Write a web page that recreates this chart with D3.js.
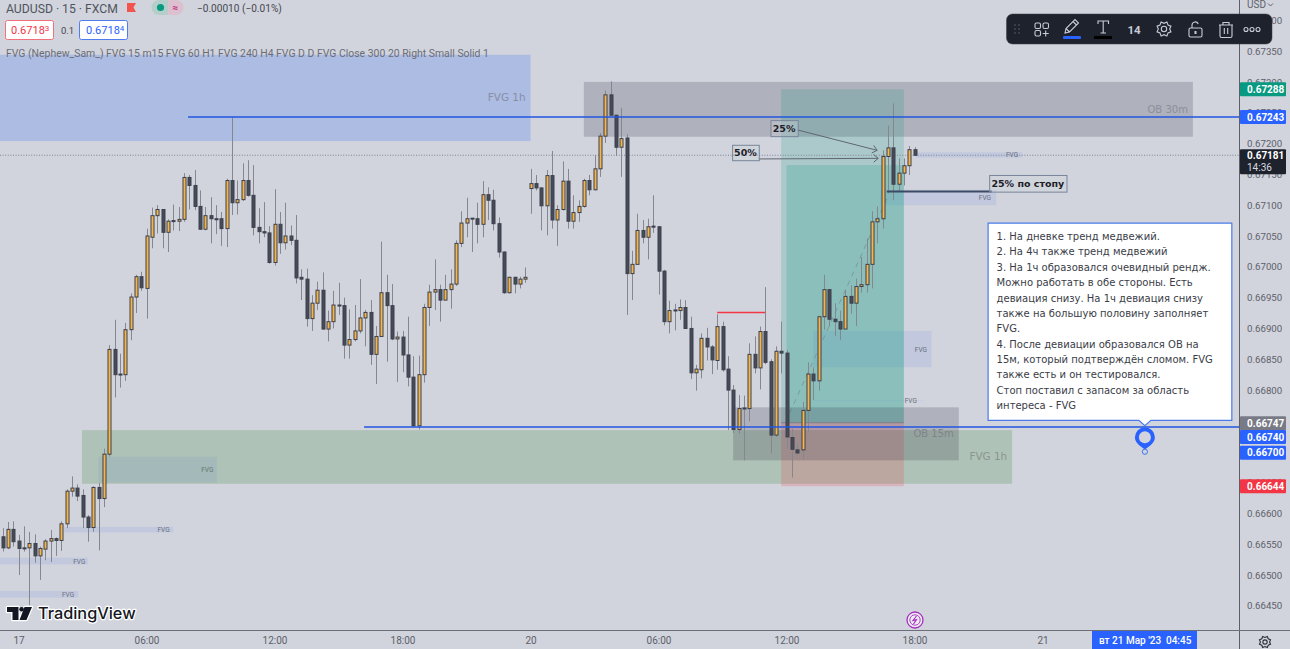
<!DOCTYPE html>
<html lang="ru">
<head>
<meta charset="utf-8">
<title>AUDUSD 15</title>
<script src="https://cdn.jsdelivr.net/npm/d3@7/dist/d3.min.js"></script>
<style>
  html, body { margin: 0; padding: 0; background: #d1d4dc; overflow: hidden; }
  svg { display: block; }
  text { font-family: Roboto, sans-serif; }
</style>
</head>
<body>
<svg id="chart" width="1290" height="649"></svg>
<script>
// AUDUSD 15-minute quotes in 1e-5 units, one entry per bar, starting three bars before 17 March.
const firstBar = -3;
const opens = [
  66562,66544,66574,66555,66544,66544,66551,66531,66542,66555,
  66559,66556,66583,66636,66641,66629,66594,66577,66642,66624,
  66696,66866,66826,66825,66898,66951,66984,66965,67048,67083,
  67093,67056,67075,67074,67077,67145,67132,67098,67061,67083,
  67078,67078,67062,67140,67104,67109,67140,67116,67064,67057,
  67055,67007,67069,67039,67050,67043,66983,66980,66916,66941,
  66962,66899,66911,66938,66937,66873,66882,66896,66917,66926,
  66858,66887,66958,66937,66883,66886,66857,66821,66742,66825,
  66934,66959,66963,66946,66963,66972,67038,67071,67079,67078,
  67069,67117,67108,67070,67024,66958,66983,66972,66980,67127,
  67135,67128,67099,67148,67076,67093,67139,67074,67088,67098,
  67140,67125,67159,67212,67279,67246,67194,67209,66989,67004,
  67059,67048,67066,67065,66993,66911,66930,66929,66934,66900,
  66828,66833,66884,66870,66848,66903,66834,66800,66736,66771,
  66770,66858,66836,66895,66846,66727,66863,66860,66723,66703,
  66703,66767,66826,66815,66919,66963,66915,66911,66899,66952,
  66941,66968,66971,67004,67073,67078,67179,67193,67134,67152,
  67164,67190];
const highs = [
  66576,66586,66587,66565,66579,66570,66566,66546,66558,66573,
  66561,66587,66639,66660,66647,66639,66597,66644,66649,66705,
  66873,66914,66859,66909,66957,66987,66992,67062,67096,67100,
  67093,67077,67101,67097,67152,67149,67157,67124,67097,67113,
  67100,67089,67143,67243,67140,67168,67173,67165,67095,67105,
  67066,67126,67089,67104,67067,67084,66996,66997,66954,66976,
  66991,66929,66961,66974,66950,66931,66938,66980,66930,66946,
  66904,67041,66987,66972,66895,66896,66919,66855,66856,66940,
  66971,67012,66971,66987,66996,67043,67090,67112,67079,67104,
  67139,67129,67125,67080,67025,66984,66984,66984,66999,67159,
  67149,67129,67157,67188,67100,67171,67159,67116,67108,67143,
  67149,67181,67217,67286,67301,67246,67258,67215,67026,67086,
  67076,67078,67116,67066,66995,66945,66940,66947,66946,66919,
  66841,66892,66901,66873,66923,66911,66855,66808,66792,66791,
  66876,66887,66903,66967,66850,66871,66911,66865,66737,66714,
  66781,66845,66837,66920,66987,66963,66941,66929,66963,66970,
  66981,67016,67046,67090,67098,67189,67229,67265,67176,67176,
  67196,67194];
const lows = [
  66538,66542,66546,66500,66538,66451,66520,66492,66524,66521,
  66531,66539,66576,66627,66620,66576,66554,66570,66540,66610,
  66692,66788,66804,66815,66881,66925,66961,66916,67030,67054,
  67030,67024,67059,67058,67073,67093,67092,67060,67059,67038,
  67053,67034,67032,67084,67085,67107,67114,67051,67038,67048,
  67005,67002,67021,67028,67035,66973,66946,66903,66896,66930,
  66898,66879,66900,66922,66851,66851,66879,66892,66871,66841,
  66810,66886,66846,66881,66813,66829,66806,66740,66736,66812,
  66904,66930,66911,66946,66932,66969,67032,67048,67024,67038,
  67048,67076,67059,67015,66956,66957,66957,66965,66974,67086,
  67124,67059,67051,67062,67034,67091,67062,67062,67073,67096,
  67116,67124,67146,67201,67246,67180,67146,66922,66946,67003,
  67038,67012,67055,66955,66905,66892,66897,66914,66899,66818,
  66799,66819,66848,66826,66833,66830,66735,66730,66729,66686,
  66749,66827,66801,66842,66697,66724,66827,66705,66658,66695,
  66688,66731,66784,66799,66898,66903,66888,66881,66899,66924,
  66904,66958,66958,66965,67038,67062,67119,67108,67121,67132,
  67149,67181];
const closes = [
  66544,66574,66554,66543,66543,66551,66531,66543,66555,66559,
  66556,66583,66636,66641,66628,66594,66577,66642,66624,66696,
  66866,66825,66825,66898,66951,66984,66966,67050,67083,67093,
  67056,67074,67074,67077,67145,67132,67098,67061,67083,67078,
  67077,67062,67140,67104,67109,67140,67116,67064,67057,67055,
  67007,67069,67039,67050,67043,66982,66980,66916,66941,66962,
  66899,66911,66938,66937,66873,66882,66896,66917,66926,66858,
  66887,66958,66937,66883,66886,66857,66821,66742,66825,66934,
  66959,66963,66946,66963,66972,67038,67071,67078,67078,67069,
  67117,67108,67070,67024,66958,66983,66972,66980,66983,67135,
  67128,67099,67148,67076,67093,67139,67074,67088,67098,67140,
  67125,67159,67212,67279,67246,67194,67208,66989,67004,67059,
  67048,67065,67065,66993,66911,66929,66929,66934,66900,66828,
  66834,66884,66870,66849,66903,66833,66800,66736,66770,66770,
  66858,66836,66895,66845,66727,66863,66860,66724,66704,66698,
  66767,66826,66815,66919,66963,66915,66911,66899,66952,66941,
  66968,66971,67004,67073,67078,67179,67193,67134,67152,67164,
  67190,67181];

// Axis contents; 0.66700 and 0.66750 are left out because value tags sit on those levels.
const priceTicks = d3.range(66450, 67401, 50).filter(v => v !== 66700 && v !== 66750);
const timeTicks = [0, 24, 48, 72, 96, 120, 144, 168, 192];
const timeLabels = ["17", "06:00", "12:00", "18:00", "20", "06:00", "12:00", "18:00", "21"];

// Drawn zones: [first bar, last bar, upper price, lower price].
const fvgHourBlue = [-6, 96, 67344, 67204];
const fvgHourGreen = [11.9, 186.3, 66735, 66648];
const ob30m = [106, 220.2, 67300, 67211];
const ob15m = [134, 176.3, 66772, 66686];
const positionTarget = [143, 166, 67288, 66747];
const positionFilled = [144, 166, 67165, 66747];
const positionStop = [143, 166, 66747, 66644];

// Small fair-value gaps from the indicator: [first bar, last bar, upper, lower, label bar].
const smallGaps = [
  [-6, 13, 66528, 66517, 11.4],
  [-6, 11.2, 66474, 66463, 9.3],
  [8.5, 29, 66578, 66569, 27.2],
  [15, 37.2, 66692, 66650, 35.4],
  [149, 171.2, 66896, 66837, 169.2],
  [149, 169.4, 66784, 66783, 167.3],
  [161.6, 183.3, 67125, 67100, 181.2],
  [168.2, 188.2, 67186, 67177, 186.3]
];

// Horizontal levels: [first bar, last bar, price].
const blueLevels = [[31.8, 300, 67243], [64.8, 300, 66740]];
const redLevel = [131, 140, 66926];
const stopLevel = [162.8, 182.5, 67122];
const lastClose = 67181;

// Arrowed call-outs and their label boxes: [first bar, last bar, upper, lower, text].
const calloutBoxes = [
  [141, 146.1, 67238, 67212, "25%"],
  [133.8, 138.8, 67198, 67173, "50%"],
  [182, 196.5, 67149, 67122, "25% по стопу"]
];
const calloutArrows = [
  [146.1, 67222, 161, 67189],
  [138.8, 67175, 161.2, 67176]
];
const tradeProjection = [144.6, 66763, 163, 67114];

// Value tags on the price axis: [price, label, fill, nudge so stacked tags do not cover each other].
const priceTags = [
  [67288, "0.67288", "#089981", 0],
  [67243, "0.67243", "#2962ff", 0],
  [66747, "0.66747", "#787b86", 0.6],
  [66740, "0.66740", "#2962ff", 10],
  [66700, "0.66700", "#2962ff", 1],
  [66644, "0.66644", "#f23645", 0]
];

const noteLines = [
  "1. На дневке тренд медвежий.",
  "2. На 4ч также тренд медвежий",
  "3. На 1ч образовался очевидный рендж.",
  "Можно работать в обе стороны. Есть",
  "девиация снизу. На 1ч девиация снизу",
  "также на большую половину заполняет",
  "FVG.",
  "4. После девиации образовался OB на",
  "15м, который подтверждён сломом. FVG",
  "также есть и он тестировался.",
  "Стоп поставил с запасом за область",
  "интереса - FVG"
];
const noteBox = [181.8, 227.5, 67071, 66751];
const notePin = [211.2, 66700];

const paneWidth = 1239, paneHeight = 630;
const svg = d3.select("#chart");

const x = d3.scaleLinear().domain([0, 96]).range([18.5, 530.5]);
const y = d3.scaleLinear().domain([67350, 66450]).range([51.1, 605.8]);

svg.append("defs").append("clipPath").attr("id", "pane")
  .append("rect").attr("width", paneWidth).attr("height", paneHeight);
const pane = svg.append("g").attr("clip-path", "url(#pane)");

// Filled rectangle spanning bars and prices.
function zone(parent, z, fill) {
  return parent.append("rect")
    .attr("x", x(z[0])).attr("width", x(z[1]) - x(z[0]))
    .attr("y", y(z[2])).attr("height", y(z[3]) - y(z[2]))
    .attr("fill", fill);
}
// Text label tucked against the right side of a zone.
function zoneLabel(parent, z, text, size, color) {
  parent.append("text").attr("x", x(z[1]) - 5).attr("y", (y(z[2]) + y(z[3])) / 2 + 3.5)
    .attr("text-anchor", "end").attr("font-size", size).attr("fill", color)
    .style("font-family", "'DejaVu Sans', sans-serif").text(text);
}

const gapFill = "rgba(41,98,255,0.09)";
smallGaps.forEach(g => {
  zone(pane, g, gapFill);
  pane.append("text").attr("x", x(g[4])).attr("y", (y(g[2]) + y(g[3])) / 2 + 2.5)
    .attr("text-anchor", "middle").attr("font-size", 6.5).attr("fill", "#6b6f7c").text("FVG");
});

zone(pane, fvgHourBlue, "rgba(41,98,255,0.21)");
zoneLabel(pane, fvgHourBlue, "FVG 1h", 10.4, "#868fa6");
zone(pane, fvgHourGreen, "rgba(76,140,70,0.25)");
zoneLabel(pane, fvgHourGreen, "FVG 1h", 10.4, "#89978e");
zone(pane, ob30m, "rgba(40,40,60,0.2)");
zoneLabel(pane, ob30m, "OB 30m", 10, "#8c8f9b");
zone(pane, positionTarget, "rgba(8,153,129,0.19)");
zone(pane, positionFilled, "rgba(8,153,129,0.2)");
zone(pane, positionStop, "rgba(242,54,69,0.2)");
zone(pane, ob15m, "rgba(40,40,60,0.2)");
zoneLabel(pane, ob15m, "OB 15m", 10, "#7f8389");

pane.append("line")
  .attr("x1", x(positionTarget[0])).attr("x2", x(positionTarget[1]))
  .attr("y1", y(positionTarget[3])).attr("y2", y(positionTarget[3]))
  .attr("stroke", "#7f8086").attr("stroke-width", 1);

// Last-price guide sits underneath the candles.
pane.append("line")
  .attr("x1", 0).attr("x2", paneWidth).attr("y1", y(lastClose)).attr("y2", y(lastClose))
  .attr("stroke", "#7f8494").attr("stroke-width", 1).attr("stroke-dasharray", "1,1.6");

// Projection line of the trade.
pane.append("line")
  .attr("x1", x(tradeProjection[0])).attr("y1", y(tradeProjection[1]))
  .attr("x2", x(tradeProjection[2])).attr("y2", y(tradeProjection[3]))
  .attr("stroke", "#6f7a80").attr("stroke-opacity", 0.55).attr("stroke-dasharray", "5,5");

// Candles.
const bars = opens.map((o, k) => ({
  bar: firstBar + k, open: o, high: highs[k], low: lows[k], close: closes[k]
}));
const candles = pane.append("g").selectAll("g").data(bars).join("g");
candles.append("line")
  .attr("x1", d => Math.round(x(d.bar)) + 0.5).attr("x2", d => Math.round(x(d.bar)) + 0.5)
  .attr("y1", d => y(d.high)).attr("y2", d => y(d.low))
  .attr("stroke", "#85878f").attr("stroke-width", 1);
candles.append("rect")
  .attr("x", d => Math.round(x(d.bar)) - 1)
  .attr("width", 3)
  .attr("y", d => y(Math.max(d.open, d.close)))
  .attr("height", d => Math.max(1, Math.abs(y(d.open) - y(d.close))))
  .attr("fill", d => d.close > d.open ? "#f7b548" : "#474b58")
  .attr("stroke", "#3c404d").attr("stroke-width", 1);

// Horizontal levels.
blueLevels.forEach(l => {
  pane.append("line").attr("x1", x(l[0])).attr("x2", x(l[1])).attr("y1", y(l[2])).attr("y2", y(l[2]))
    .attr("stroke", "#2256e0").attr("stroke-width", 1.5);
});
pane.append("line").attr("x1", x(redLevel[0])).attr("x2", x(redLevel[1]))
  .attr("y1", y(redLevel[2])).attr("y2", y(redLevel[2]))
  .attr("stroke", "#f23645").attr("stroke-width", 1.5);
pane.append("line").attr("x1", x(stopLevel[0])).attr("x2", x(stopLevel[1]))
  .attr("y1", y(stopLevel[2])).attr("y2", y(stopLevel[2]))
  .attr("stroke", "#3d4a66").attr("stroke-width", 2);

// Arrows with open heads.
calloutArrows.forEach(a => {
  const x1 = x(a[0]), y1 = y(a[1]), x2 = x(a[2]), y2 = y(a[3]);
  const ang = Math.atan2(y2 - y1, x2 - x1), h = 6;
  pane.append("line").attr("x1", x1).attr("y1", y1).attr("x2", x2).attr("y2", y2)
    .attr("stroke", "#5f6672").attr("stroke-width", 1);
  pane.append("path")
    .attr("d", d3.line()([
      [x2 - h * Math.cos(ang - 0.7), y2 - h * Math.sin(ang - 0.7)],
      [x2, y2],
      [x2 - h * Math.cos(ang + 0.7), y2 - h * Math.sin(ang + 0.7)]
    ]))
    .attr("fill", "none").attr("stroke", "#5f6672").attr("stroke-width", 1);
});

calloutBoxes.forEach(b => {
  const bx = x(b[0]), bw = x(b[1]) - bx, by = y(b[2]), bh = y(b[3]) - by;
  pane.append("rect").attr("x", bx + 0.5).attr("y", by + 0.5).attr("width", bw).attr("height", bh)
    .attr("fill", "#cfd3da").attr("fill-opacity", 0.35).attr("stroke", "#78859a").attr("stroke-width", 1);
  pane.append("text").attr("x", bx + bw / 2).attr("y", by + bh / 2 + 4)
    .attr("text-anchor", "middle").attr("font-size", 9.5).attr("font-weight", 700).attr("fill", "#1d2029")
    .style("font-family", "'DejaVu Sans', sans-serif").text(b[4]);
});

// Note with its pointer and pin.
{
  const nx = x(noteBox[0]), nw = x(noteBox[1]) - nx, ny = y(noteBox[2]), nh = y(noteBox[3]) - ny;
  const px = x(notePin[0]), py = y(notePin[1]);
  pane.append("path")
    .attr("d", d3.line()([[nx, ny], [nx + nw, ny], [nx + nw, ny + nh], [px + 6, ny + nh], [px, ny + nh + 5.5],
                          [px - 6, ny + nh], [nx, ny + nh]]) + "Z")
    .attr("fill", "#fff").attr("stroke", "#4a7ae8").attr("stroke-width", 1.2);
  pane.append("g").selectAll("text").data(noteLines).join("text")
    .attr("x", nx + 8.5).attr("y", (d, k) => ny + 17 + k * 15.38)
    .attr("font-size", 10).attr("fill", "#3a3d47")
    .style("font-family", "'DejaVu Sans', sans-serif").text(d => d);

  // Teardrop pin hanging from the level, with its anchor ring underneath.
  const cy = py - 14.5;
  pane.append("path")
    .attr("d", `M${px},${py - 2} C${px - 2},${cy + 10} ${px - 10},${cy + 7} ${px - 10},${cy}` +
               `A10,10 0 1 1 ${px + 10},${cy} C${px + 10},${cy + 7} ${px + 2},${cy + 10} ${px},${py - 2}Z`)
    .attr("fill", "#2962ff");
  pane.append("circle").attr("cx", px).attr("cy", cy).attr("r", 6).attr("fill", "#d1d4dc");
  pane.append("circle").attr("cx", px).attr("cy", py).attr("r", 2.6)
    .attr("fill", "#d1d4dc").attr("stroke", "#3f74ee").attr("stroke-width", 1);
}

// Price axis.
const priceAxis = svg.append("g").attr("transform", `translate(${paneWidth},0)`)
  .call(d3.axisRight(y).tickValues(priceTicks).tickSize(0).tickPadding(8)
    .tickFormat(v => (v / 1e5).toFixed(5)));
priceAxis.select(".domain").remove();
priceAxis.selectAll("text").attr("font-size", 9.7).attr("fill", "#5d606b").style("font-family", "Roboto, sans-serif");

// Time axis.
const timeAxis = svg.append("g").attr("transform", `translate(0,${paneHeight})`)
  .call(d3.axisBottom(x).tickValues(timeTicks).tickSize(0).tickPadding(7)
    .tickFormat((v, k) => timeLabels[k]));
timeAxis.select(".domain").remove();
timeAxis.selectAll("text").attr("font-size", 10).attr("fill", "#5d606b").style("font-family", "Roboto, sans-serif");

svg.append("line").attr("x1", paneWidth + 0.5).attr("x2", paneWidth + 0.5).attr("y1", 0).attr("y2", 649)
  .attr("stroke", "#5d5f68").attr("stroke-width", 1);
svg.append("line").attr("x1", 0).attr("x2", 1290).attr("y1", paneHeight + 0.5).attr("y2", paneHeight + 0.5)
  .attr("stroke", "#6d6f78").attr("stroke-width", 1);

// Value tags.
const tagG = svg.append("g");
priceTags.forEach(t => {
  const cy = y(t[0]) + t[3];
  tagG.append("rect").attr("x", paneWidth + 1).attr("y", cy - 7).attr("width", 46).attr("height", 14)
    .attr("rx", 1).attr("fill", t[2]);
  tagG.append("text").attr("x", paneWidth + 8).attr("y", cy + 3.6).attr("font-size", 10)
    .attr("font-weight", 700).attr("fill", "#fff").text(t[1]);
});
tagG.append("rect").attr("x", paneWidth + 1).attr("y", y(lastClose) - 6).attr("width", 46).attr("height", 25)
  .attr("rx", 1).attr("fill", "#1e222d");
tagG.append("text").attr("x", paneWidth + 8).attr("y", y(lastClose) + 3.6).attr("font-size", 10)
  .attr("font-weight", 700).attr("fill", "#fff").text("0.67181");
tagG.append("text").attr("x", paneWidth + 8).attr("y", y(lastClose) + 15.4).attr("font-size", 10)
  .attr("fill", "#d8dae0").text("14:36");

svg.append("text").attr("x", 1247).attr("y", 8).attr("font-size", 10).attr("fill", "#5d606b").text("USD");
svg.append("path").attr("d", "M1268,3.5 l2.5,2.5 l2.5,-2.5").attr("fill", "none").attr("stroke", "#5d606b");

// Crosshair date on the time axis.
svg.append("rect").attr("x", 1092).attr("y", 631).attr("width", 105).attr("height", 18).attr("fill", "#2962ff");
svg.append("text").attr("x", 1099).attr("y", 644).attr("font-size", 10).attr("font-weight", 500)
  .attr("fill", "#fff").text("вт 21 Мар '23");
svg.append("text").attr("x", 1166).attr("y", 644).attr("font-size", 10).attr("font-weight", 500)
  .attr("fill", "#fff").text("04:45");

// Settings gear in the axis corner.
function gear(parent, cx, cy, r, color, w) {
  const pts = d3.range(0, 16).map(k => {
    const a = k / 16 * 2 * Math.PI, rr = k % 2 ? r : r * 0.76;
    return [cx + rr * Math.cos(a), cy + rr * Math.sin(a)];
  });
  parent.append("path").attr("d", d3.line().curve(d3.curveLinearClosed)(pts))
    .attr("fill", "none").attr("stroke", color).attr("stroke-width", w);
  parent.append("circle").attr("cx", cx).attr("cy", cy).attr("r", r * 0.36)
    .attr("fill", "none").attr("stroke", color).attr("stroke-width", w);
}
gear(svg, 1265, 642, 6, "#2a2e39", 1.1);

// Session-break marker near the time axis.
svg.append("circle").attr("cx", 915).attr("cy", 620).attr("r", 8)
  .attr("fill", "#eceef2").attr("stroke", "#a62fc0").attr("stroke-width", 1.3);
svg.append("circle").attr("cx", 915).attr("cy", 620).attr("r", 5.2)
  .attr("fill", "none").attr("stroke", "#a62fc0").attr("stroke-width", 0.9);
svg.append("path").attr("d", "M916.5,616 L913,620.5 L916.5,619.7 L913.5,624")
  .attr("fill", "none").attr("stroke", "#a62fc0").attr("stroke-width", 1.2);

// Symbol header.
svg.append("text").attr("x", 6).attr("y", 12.5).attr("font-size", 12.2).attr("fill", "#50535e")
  .text("AUDUSD · 15 · FXCM");
svg.append("path").attr("d", "M127,3 H136 L133.5,7.5 L136,12 H127 Z").attr("fill", "#f2554e");
svg.append("path").attr("d", "M168,0 H159 A7.5,7.5 0 0 0 159,15 H168 Z").attr("fill", "#b4cfca");
svg.append("path").attr("d", "M168,0 H176 A7.5,7.5 0 0 1 176,15 H168 Z").attr("fill", "#dcc0cf");
svg.append("circle").attr("cx", 160.5).attr("cy", 7.5).attr("r", 3.6).attr("fill", "#089981");
svg.append("text").attr("x", 175.5).attr("y", 11).attr("font-size", 10).attr("font-weight", 700)
  .attr("text-anchor", "middle").attr("fill", "#c2287f").text("≈");
svg.append("text").attr("x", 197).attr("y", 12.3).attr("font-size", 10.1).attr("fill", "#44474f")
  .text("−0.00010 (−0.01%)");

svg.append("rect").attr("x", 5.5).attr("y", 20.5).attr("width", 48).attr("height", 19).attr("rx", 2)
  .attr("fill", "#fff").attr("stroke", "#f0717b");
const bidText = svg.append("text").attr("x", 11).attr("y", 34).attr("font-size", 11).attr("fill", "#f23645");
bidText.append("tspan").text("0.6718");
bidText.append("tspan").attr("font-size", 8).attr("dy", -3).text("3");
svg.append("text").attr("x", 61).attr("y", 33.5).attr("font-size", 9.5).attr("fill", "#44474f").text("0.1");
svg.append("rect").attr("x", 79.5).attr("y", 20.5).attr("width", 48).attr("height", 19).attr("rx", 2)
  .attr("fill", "#fff").attr("stroke", "#4f7df0");
const askText = svg.append("text").attr("x", 86).attr("y", 34).attr("font-size", 11).attr("fill", "#2962ff");
askText.append("tspan").text("0.6718");
askText.append("tspan").attr("font-size", 8).attr("dy", -3).text("4");

svg.append("text").attr("x", 6).attr("y", 57).attr("font-size", 10.43).attr("fill", "#6a6d78")
  .text("FVG (Nephew_Sam_) FVG 15 m15 FVG 60 H1 FVG 240 H4 FVG D D FVG Close 300 20 Right Small Solid 1");

// Floating drawing toolbar.
const bar = svg.append("g");
bar.append("rect").attr("x", 1006.5).attr("y", 14).attr("width", 265.5).attr("height", 30).attr("rx", 6)
  .attr("fill", "#1e222d").attr("stroke", "#3a3d47").attr("stroke-width", 0.5);
const ink = "#c8ccd6";
[[1015, 25], [1019, 25], [1015, 29], [1019, 29], [1015, 33], [1019, 33]].forEach(p =>
  bar.append("circle").attr("cx", p[0]).attr("cy", p[1]).attr("r", 0.8).attr("fill", "#5d606b"));
const outline = s => s.attr("fill", "none").attr("stroke", ink).attr("stroke-width", 1.1);
[[1035, 23], [1043, 23], [1035, 30.5]].forEach(p =>
  outline(bar.append("rect")).attr("x", p[0]).attr("y", p[1]).attr("width", 5.5).attr("height", 5.5).attr("rx", 1.4));
outline(bar.append("path")).attr("d", "M1045.7,30.5 v6 M1042.7,33.5 h6");
outline(bar.append("path")).attr("d", "M1065,33 l1,-4.5 l9,-9 l3.5,3.5 l-9,9 Z M1066,28.5 l3.5,3.5 M1073,21.5 l3.5,3.5");
bar.append("rect").attr("x", 1063).attr("y", 36).attr("width", 18).attr("height", 3).attr("rx", 1).attr("fill", "#2962ff");
outline(bar.append("path")).attr("d", "M1098,24 v-3 h10.5 v3 M1103.2,21 v12 M1100.5,33 h5.5");
bar.append("rect").attr("x", 1094).attr("y", 36).attr("width", 18).attr("height", 3).attr("fill", "#000");
bar.append("text").attr("x", 1134).attr("y", 33.5).attr("text-anchor", "middle").attr("font-size", 11.5)
  .attr("font-weight", 700).attr("fill", ink).text("14");
gear(bar, 1164, 29, 7.5, ink, 1.1);
outline(bar.append("rect")).attr("x", 1189).attr("y", 28).attr("width", 13).attr("height", 9).attr("rx", 1.5);
outline(bar.append("path")).attr("d", "M1192,28 v-3 a3.2,3.2 0 0 1 6.2,-1");
bar.append("rect").attr("x", 1194.5).attr("y", 31).attr("width", 2).attr("height", 3).attr("fill", ink);
outline(bar.append("path")).attr("d", "M1220,25 h12 v11 a1.5,1.5 0 0 1 -1.5,1.5 h-9 a1.5,1.5 0 0 1 -1.5,-1.5 Z M1219,25 h14 M1223,25 v-2.5 h6 V25 M1224.3,28 v6 M1227.7,28 v6");
[1246, 1252, 1258].forEach(cx =>
  outline(bar.append("circle")).attr("cx", cx).attr("cy", 29.5).attr("r", 2));

// Brand mark at the lower left.
const brand = svg.append("g");
const logoPath = "M7,607 H18.5 V620 H12.5 V612 H7 Z M24.5,607 H32 L26.5,620 H19.5 Z";
const logoDot = [21.6, 609.3, 2.3];
brand.append("path").attr("d", logoPath).attr("fill", "#fff").attr("stroke", "#fff").attr("stroke-width", 2.5).attr("stroke-linejoin", "round");
brand.append("path").attr("d", logoPath).attr("fill", "#131722");
brand.append("circle").attr("cx", logoDot[0]).attr("cy", logoDot[1]).attr("r", logoDot[2]).attr("fill", "#131722");
brand.append("text").attr("x", 38).attr("y", 619).attr("font-size", 16.3).attr("font-weight", 500)
  .attr("fill", "#131722").attr("stroke", "#fff").attr("stroke-width", 2.5).attr("paint-order", "stroke")
  .attr("stroke-linejoin", "round").style("font-family", "Inter, sans-serif").text("TradingView");
</script>
</body>
</html>
